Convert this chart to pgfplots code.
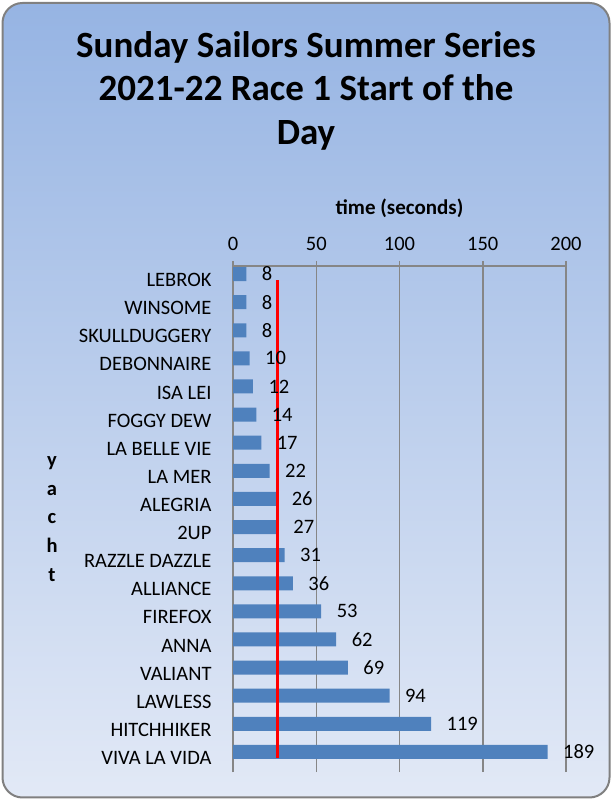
\documentclass[border=0pt]{standalone}
\usepackage{pgfplots}
\pgfplotsset{compat=1.18}
\usepackage{pgfplotstable}
\usepackage{fontspec}
\setmainfont{Carlito}
\definecolor{barblue}{RGB}{79,129,189}
\definecolor{gridgray}{RGB}{134,134,134}
\definecolor{bgtop}{RGB}{150,180,227}
\definecolor{bgbot}{RGB}{226,233,246}
\definecolor{frame}{RGB}{128,128,128}

\pgfplotstableread[col sep=comma]{
pos,val,name
1,189,VIVA LA VIDA
2,119,HITCHHIKER
3,94,LAWLESS
4,69,VALIANT
5,62,ANNA
6,53,FIREFOX
7,36,ALLIANCE
8,31,RAZZLE DAZZLE
9,27,2UP
10,26,ALEGRIA
11,22,LA MER
12,17,LA BELLE VIE
13,14,FOGGY DEW
14,12,ISA LEI
15,10,DEBONNAIRE
16,8,SKULLDUGGERY
17,8,WINSOME
18,8,LEBROK
}\data

\begin{document}
\begin{tikzpicture}
\path[use as bounding box] (0,0) rectangle (612bp,801bp);
\shade[top color=bgtop, bottom color=bgbot, rounded corners=20bp] (2.5bp,3.5bp) rectangle (609.5bp,798bp);
\draw[frame, line width=2bp, rounded corners=20bp] (2.5bp,3.5bp) rectangle (609.5bp,798bp);
\node[font=\bfseries\fontsize{37bp}{43.5bp}\selectfont, align=center] at (306bp,710.5bp)
  {Sunday Sailors Summer Series\\2021-22 Race 1 Start of the\\Day};
\begin{axis}[
  at={(233bp,29bp)}, anchor=south west,
  scale only axis, width=333bp, height=506bp,
  xmin=0, xmax=200, ymin=0.5, ymax=18.5,
  clip=false,
  axis x line*=top, axis y line*=left,
  axis line style={gridgray, line width=1.5bp, -},
  xtick={0,50,...,200},
  xmajorgrids,
  grid style={gridgray, line width=1.5bp},
  tick align=outside,
  major tick length=5bp,
  xtick style={gridgray, line width=1.5bp},
  ytick={1,...,18},
  yticklabels from table={\data}{name},
  ytick style={draw=none},
  minor ytick={0.5,1.5,...,18.5},
  minor tick length=6bp,
  minor y tick style={gridgray, line width=1.5bp},
  tick label style={font=\fontsize{20.5bp}{24bp}\selectfont},
  /pgf/number format/assume math mode=true,
  yticklabel style={xshift=-13bp},
  xticklabel style={yshift=7bp},
  xlabel={time (seconds)},
  xlabel style={font=\bfseries\fontsize{21bp}{25bp}\selectfont, at={(axis description cs:0.5,1)}, anchor=center, yshift=58bp},
  ylabel={y\\a\\c\\h\\t},
  ylabel style={rotate=-90, align=center, font=\bfseries\fontsize{20.5bp}{28.75bp}\selectfont, at={(axis description cs:-0.5435,0.5)}, anchor=center},
]
\addplot[xbar, fill=barblue, draw=none, bar width=14bp, bar shift=6bp,
  nodes near coords, point meta=explicit symbolic,
  every node near coord/.append style={anchor=west, xshift=12bp, yshift=6bp, font=\fontsize{20.5bp}{24bp}\selectfont, text=black}]
  table[x=val, y=pos, meta=val]{\data};
\addplot[red, line width=3bp, mark=none] coordinates {(27,1) (27,18)};
\end{axis}
\end{tikzpicture}
\end{document}
